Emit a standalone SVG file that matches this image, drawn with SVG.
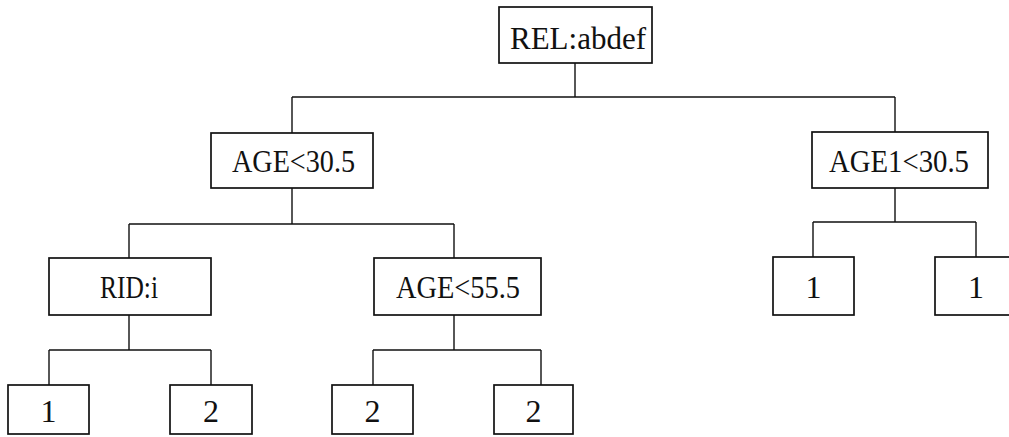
<svg xmlns="http://www.w3.org/2000/svg" width="1009" height="437" viewBox="0 0 1009 437">
<style>
.box{fill:#fff;stroke:#111;stroke-width:1.7}
.ln{fill:none;stroke:#111;stroke-width:1.4}
text{font-family:"Liberation Serif","Times New Roman",serif;font-size:32px;fill:#111}
.c{text-anchor:middle}
</style>
<rect width="1009" height="437" fill="#fff"/>
<g id="connectors">
<path class="ln" d="M575 63V97M292 97H895M292 97V133M895 97V132"/>
<path class="ln" d="M292 188V224M129 224H454M129 224V258M454 224V258"/>
<path class="ln" d="M129 315V350M49 350H211M49 350V385M211 350V385"/>
<path class="ln" d="M454 315V350M373 350H541M373 350V385M541 350V385"/>
<path class="ln" d="M895 188V222M813 222H976M813 222V257M976 222V257"/>
</g>
<g id="n-root"><rect class="box" x="499" y="7" width="153" height="56"/><text x="510" y="49" textLength="136" lengthAdjust="spacingAndGlyphs">REL:abdef</text></g>
<g id="n-age30"><rect class="box" x="211" y="133" width="162" height="55"/><text x="232" y="172" textLength="123" lengthAdjust="spacingAndGlyphs">AGE&lt;30.5</text></g>
<g id="n-age1"><rect class="box" x="812" y="132" width="176" height="56"/><text x="829" y="172" textLength="140" lengthAdjust="spacingAndGlyphs">AGE1&lt;30.5</text></g>
<g id="n-rid"><rect class="box" x="49" y="258" width="162" height="57"/><text x="100" y="298" textLength="58" lengthAdjust="spacingAndGlyphs">RID:i</text></g>
<g id="n-age55"><rect class="box" x="374" y="258" width="167" height="57"/><text x="396" y="298" textLength="124" lengthAdjust="spacingAndGlyphs">AGE&lt;55.5</text></g>
<g id="n-l1"><rect class="box" x="8" y="385" width="81" height="49"/><text class="c" x="48.5" y="422">1</text></g>
<g id="n-l2"><rect class="box" x="170" y="385" width="82" height="49"/><text class="c" x="211" y="422">2</text></g>
<g id="n-l3"><rect class="box" x="332" y="385" width="81" height="49"/><text class="c" x="372.5" y="422">2</text></g>
<g id="n-l4"><rect class="box" x="494" y="385" width="79" height="49"/><text class="c" x="533.5" y="422">2</text></g>
<g id="n-r1"><rect class="box" x="773" y="257" width="81" height="58"/><text class="c" x="813.5" y="298">1</text></g>
<g id="n-r2"><rect class="box" x="935" y="257" width="82" height="58"/><text class="c" x="976" y="298">1</text></g>
</svg>
